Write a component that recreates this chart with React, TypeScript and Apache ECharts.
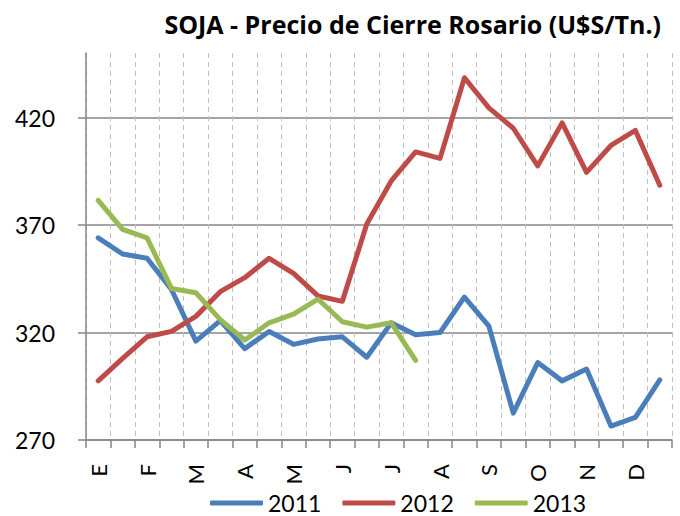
import React, { useEffect, useRef } from "react";
import * as echarts from "echarts";

const months = ["E", "F", "M", "A", "M", "J", "J", "A", "S", "O", "N", "D"];
const categories = months.flatMap((m, i) => [`${m}|${i}a`, `${m}|${i}b`]);

const yMin = 270;
const yMax = 450;
const yStep = 50;
const yTickValues = [270, 320, 370, 420];

const s2011 = [364, 356.5, 354.5, 340, 316, 325.5, 312.5, 320.5, 314.5, 317, 318, 308.5, 324.5, 319, 320, 336.5, 323, 282.5, 306, 297.5, 303, 276.5, 280.5, 298];
const s2012 = [297.5, 308, 318, 320.5, 327.5, 339, 345.5, 354.5, 347.5, 337, 334.5, 370.5, 390.5, 404, 401, 438.5, 424.5, 415, 397.5, 417.5, 394.5, 407, 414, 388.5];
const s2013 = [381.5, 368, 364, 340.5, 338.5, 326, 316.5, 324.5, 328.5, 335.5, 325, 322.5, 324.5, 307];

const seriesNames = ["2011", "2012", "2013"];
const colors = ["#4A7EBB", "#BE4B48", "#98B954"];

const FONT = "Lato";

export default function App() {
  const ref = useRef<HTMLDivElement>(null);
  useEffect(() => {
    if (!ref.current) return;
    const chart = echarts.init(ref.current, undefined, { renderer: "svg" });
    const mk = (name: string, data: number[], color: string) => ({
      name,
      type: "line",
      data,
      xAxisIndex: 0,
      yAxisIndex: 1,
      symbol: "none",
      smooth: false,
      lineStyle: { color, width: 5, cap: "round", join: "round" },
      itemStyle: { color },
    });
    const offsets = yTickValues.map((v) => v - yMin);
    chart.setOption({
      animation: false,
      textStyle: { fontFamily: FONT },
      title: {
        text: "SOJA - Precio de Cierre Rosario (U$S/Tn.)",
        right: 14,
        top: 6,
        textStyle: { fontFamily: "Open Sans", fontSize: 25, fontWeight: "bold", color: "#000" },
      },
      legend: {
        data: seriesNames.map((n) => ({ name: n, icon: "roundRect" })),
        left: 205,
        top: 485,
        itemWidth: 53,
        itemHeight: 5,
        itemGap: 21,
        textStyle: { fontFamily: FONT, fontSize: 23, color: "#000", lineHeight: 26 },
      },
      grid: { left: 86, right: 8, top: 53, bottom: 76, containLabel: false },
      xAxis: {
        type: "category",
        data: categories,
        boundaryGap: true,
        axisLine: { show: true, lineStyle: { color: "#868686", width: 1.5 } },
        axisTick: { show: true, interval: 0, length: 8, lineStyle: { color: "#868686", width: 1.5 } },
        axisLabel: {
          interval: 1,
          rotate: 90,
          margin: 24,
          fontFamily: FONT,
          fontSize: 22,
          color: "#000",
          formatter: (v: string) => v.split("|")[0],
        },
        splitLine: { show: true, interval: 0, lineStyle: { color: "#BFBFBF", type: [5, 4], width: 1 } },
      },
      yAxis: [
        {
          type: "value",
          min: 0,
          max: yMax - yMin,
          interval: yStep,
          axisLine: { show: true, lineStyle: { color: "#868686", width: 1.5 } },
          axisTick: { show: true, length: 8, customValues: offsets, lineStyle: { color: "#868686", width: 1.5 } },
          axisLabel: {
            fontFamily: FONT,
            fontSize: 23,
            color: "#000",
            margin: 31,
            customValues: offsets,
            formatter: (v: number) => String(v + yMin),
          },
          splitLine: { show: true, lineStyle: { color: "#868686", width: 1.5 } },
        },
        {
          type: "value",
          min: yMin,
          max: yMax,
          show: false,
          splitLine: { show: false },
        },
      ],
      series: [
        mk(seriesNames[0], s2011, colors[0]),
        mk(seriesNames[1], s2012, colors[1]),
        mk(seriesNames[2], s2013, colors[2]),
      ],
    });
    return () => chart.dispose();
  }, []);
  return (
    <div
      ref={ref}
      style={{ position: "fixed", left: 0, top: 0, width: 680, height: 516, background: "#fff" }}
    />
  );
}
